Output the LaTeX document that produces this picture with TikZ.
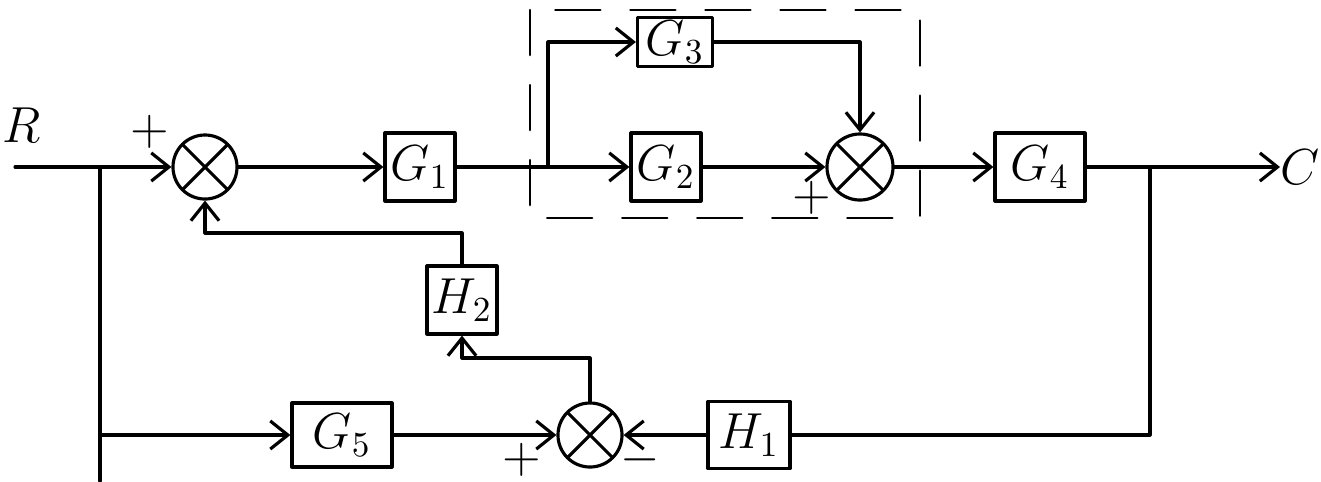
\documentclass[tikz,border=0pt]{standalone}
\usetikzlibrary{arrows.meta}
\begin{document}
\begin{tikzpicture}[x=0.01cm, y=-0.01cm, line width=0.9pt, line join=round, line cap=round,
  >={Straight Barb[length=5pt,width=8pt]}, font=\Large,
  block/.style={draw, minimum width=0.7cm, minimum height=0.68cm, inner sep=1pt},
  sumjn/.style={draw, circle, minimum size=0.64cm, inner sep=0pt,
    path picture={\draw (path picture bounding box.north west) -- (path picture bounding box.south east)
      (path picture bounding box.north east) -- (path picture bounding box.south west);}}]
\useasboundingbox (0,0) rectangle (1321,481);
% Blöcke und Summierstellen
\node[sumjn] (s1) at (205,167) {};
\node[block] (g1) at (420,167) {$G_1$};
\node[block] (g2) at (666,167) {$G_2$};
\node[block, minimum width=0.75cm, minimum height=0.48cm] (g3) at (675,42) {$G_3$};
\node[sumjn, minimum size=0.66cm] (s2) at (860,167) {};
\node[block, minimum width=0.9cm] (g4) at (1040,167) {$G_4$};
\node[block] (h2) at (462,300) {$H_2$};
\node[sumjn] (s3) at (590,435) {};
\node[block, minimum width=1cm, minimum height=0.64cm] (g5) at (342,435) {$G_5$};
\node[block, minimum width=0.82cm, minimum height=0.67cm] (h1) at (749,435) {$H_1$};
% Hilfspunkte
\coordinate (rin) at (15,167);
\coordinate (b1) at (100,167);
\coordinate (b1low) at (100,435);
\coordinate (b1end) at (100,481);
\coordinate (b2) at (548,167);
\coordinate (b3) at (1150,167);
\coordinate (cout) at (1280,167);
\coordinate (k1) at (590,358);
\coordinate (k2) at (462,233);
% Vorwärtszweig
\draw (rin) -- (b1);
\draw[->] (b1) -- (s1);
\draw[->] (s1) -- (g1);
\draw (g1) -- (b2);
\draw[->] (b2) -- (g2);
\draw[->] (b2) |- (g3);
\draw[->] (g3) -| (s2);
\draw[->] (g2) -- (s2);
\draw[->] (s2) -- (g4);
\draw[->] (g4) -- (cout);
% Rückführungen
\draw (b3) |- (h1);
\draw[->] (h1) -- (s3);
\draw (b1) -- (b1end);
\draw[->] (b1low) -- (g5);
\draw[->] (g5) -- (s3);
\draw[->] (s3) -- (k1) -| (h2);
\draw[->] (h2) -- (k2) -| (s1);
% gestrichelter Rahmen
\draw[line width=0.7pt, dash pattern=on 0.45cm off 0.3cm] (530,10) rectangle (920,218);
% Beschriftungen
\node (lr) at (22,125) {$R$};
\node (lc) at (1300,167) {$C$};
\node (p1) at (150,132) {$+$};
\node (p2) at (812,198) {$+$};
\node (p3) at (522,460) {$+$};
\node (m3) at (640,460) {$-$};
\end{tikzpicture}
\end{document}
